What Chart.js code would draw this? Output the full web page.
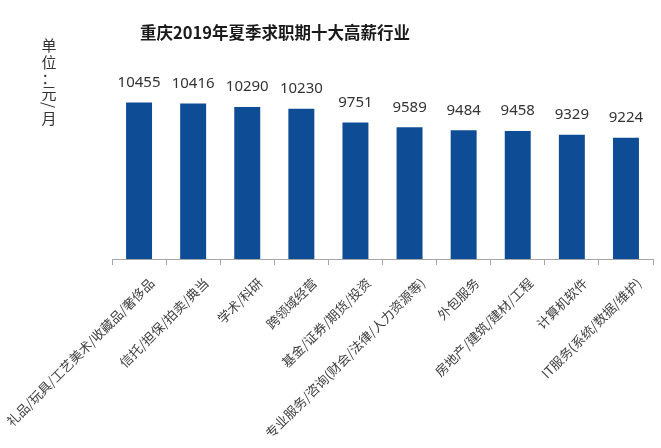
<!DOCTYPE html>
<html>
<head>
<meta charset="utf-8">
<script src="https://cdn.jsdelivr.net/npm/chart.js@4.4.0/dist/chart.umd.min.js"></script>
<style>
  body { margin: 0; background: #fff; }
  #wrap { width: 661px; height: 448px; }
</style>
</head>
<body>
<div id="wrap"><canvas id="salaryChart" width="661" height="448"></canvas></div>
<script>
const chartTitle = "重庆2019年夏季求职期十大高薪行业";
const unitChars = ["单", "位", "：", "元", "/", "月"];
const industries = [
  "礼品/玩具/工艺美术/收藏品/奢侈品",
  "信托/担保/拍卖/典当",
  "学术/科研",
  "跨领域经营",
  "基金/证券/期货/投资",
  "专业服务/咨询(财会/法律/人力资源等)",
  "外包服务",
  "房地产/建筑/建材/工程",
  "计算机软件",
  "IT服务(系统/数据/维护)"
];
const salaries = [10455, 10416, 10290, 10230, 9751, 9589, 9484, 9458, 9329, 9224];

const cjkFont = '"Noto Sans CJK SC", "Noto Sans", sans-serif';

// title, vertical unit text and the value labels over bars
const decorations = {
  id: "decorations",
  afterDatasetsDraw(chart) {
    const ctx = chart.ctx;
    ctx.save();

    ctx.fillStyle = "#1a1a1a";
    ctx.font = "bold 16.5px " + cjkFont;
    ctx.textAlign = "center";
    ctx.textBaseline = "middle";
    ctx.fillText(chartTitle, 275, 33);

    ctx.fillStyle = "#333";
    ctx.font = "15px " + cjkFont;
    const ys = [45, 62, 78, 93, 105, 118];
    unitChars.forEach((ch, i) => {
      if (ch === "/") {
        ctx.save();
        ctx.translate(49, ys[i]);
        ctx.rotate(Math.PI / 2);
        ctx.fillText(ch, 0, 0);
        ctx.restore();
      } else {
        ctx.fillText(ch, 49, ys[i]);
      }
    });

    ctx.font = '15px "Noto Sans", sans-serif';
    const meta = chart.getDatasetMeta(0);
    meta.data.forEach((bar, i) => {
      ctx.fillText(String(salaries[i]), bar.x, bar.y - 20);
    });
    ctx.restore();
  }
};

new Chart(document.getElementById("salaryChart"), {
  type: "bar",
  data: {
    labels: industries,
    datasets: [{
      data: salaries,
      backgroundColor: "#0f4c96",
      categoryPercentage: 1,
      barPercentage: 0.48
    }]
  },
  options: {
    responsive: false,
    animation: false,
    layout: { padding: { top: 58, right: 8, bottom: -3, left: 112 } },
    plugins: {
      legend: { display: false },
      tooltip: { enabled: false }
    },
    scales: {
      x: {
        afterFit(scale) {
          // let the long first label run into the left margin
          scale.paddingLeft = 0;
        },
        grid: {
          display: true,
          drawOnChartArea: false,
          offset: true,
          tickLength: 6,
          color: "#a6a6a6"
        },
        border: { color: "#a6a6a6" },
        ticks: {
          minRotation: 45,
          maxRotation: 45,
          autoSkip: false,
          padding: 10,
          labelOffset: 13,
          color: "#404040",
          font: { size: 13, family: cjkFont }
        }
      },
      y: {
        display: false,
        min: 5000,
        max: 12000
      }
    }
  },
  plugins: [decorations]
});
</script>
</body>
</html>
